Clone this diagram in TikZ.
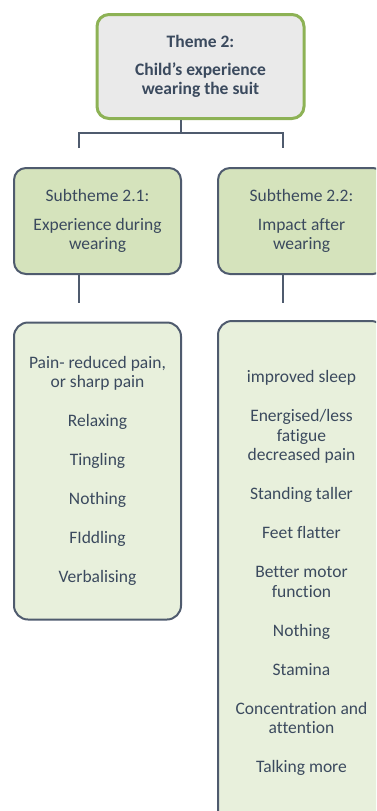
\documentclass[tikz,border=0pt]{standalone}
\usepackage{fontspec}
\setmainfont{Carlito}[Ligatures=NoCommon]
\definecolor{inkslate}{HTML}{3B4A5E}
\definecolor{boxslate}{HTML}{4F5B6E}
\definecolor{themegreen}{HTML}{8DB255}
\definecolor{themegray}{HTML}{EAEAEA}
\definecolor{subgreen}{HTML}{D5E3BC}
\definecolor{codegreen}{HTML}{E8F0DC}
\begin{document}
\begin{tikzpicture}[x=1pt,y=-1pt,
	every node/.style={align=center,text=inkslate,
	font=\fontsize{17.5}{19.5}\selectfont,rounded corners=12pt},
	theme/.style={draw=themegreen,line width=3pt,fill=themegray,
	minimum width=207pt,minimum height=104pt,font=\fontsize{17.5}{19.5}\selectfont\bfseries},
	subtheme/.style={draw=boxslate,line width=2pt,fill=subgreen,
	minimum width=167pt,minimum height=106pt},
	codes/.style={draw=boxslate,line width=2pt,fill=codegreen,
	minimum width=167pt,rounded corners=14pt},
	link/.style={draw=boxslate,line width=2pt}]
\clip (0,0) rectangle (376,811);
\node[theme] (theme) at (200.5,66.5) {Theme 2:\\[8pt] Child’s experience\\ wearing the suit};
\node[subtheme] (sub1) at (97.5,221) {Subtheme 2.1:\\[9pt] Experience during\\ wearing};
\node[subtheme] (sub2) at (301.5,221) {Subtheme 2.2:\\[9pt] Impact after\\ wearing};
\node[codes,minimum height=297pt] (list1) at (97.5,471) {Pain- reduced pain,\\ or sharp pain\\[19.5pt]
	Relaxing\\[19.5pt] Tingling\\[19.5pt] Nothing\\[19.5pt] FIddling\\[19.5pt] Verbalising};
\node[codes,minimum height=504pt] (list2) at (301.5,573) {improved sleep\\[19.5pt]
	Energised/less\\ fatigue\\ decreased pain\\[19.5pt] Standing taller\\[19.5pt]
	Feet flatter\\[19.5pt] Better motor\\ function\\[19.5pt] Nothing\\[19.5pt]
	Stamina\\[19.5pt] Concentration and\\ attention\\[19.5pt] Talking more};
% connectors
\coordinate (hub) at (181,133);
\coordinate (j1) at (79,148);
\coordinate (j2) at (283,148);
\coordinate (k1) at (79,303);
\coordinate (k2) at (283,303);
\draw[link] (theme.south -| hub) -- (hub);
\draw[link] (j1) |- (hub) -| (j2);
\draw[link] (sub1.south -| k1) -- (k1);
\draw[link] (sub2.south -| k2) -- (k2);
\end{tikzpicture}
\end{document}
